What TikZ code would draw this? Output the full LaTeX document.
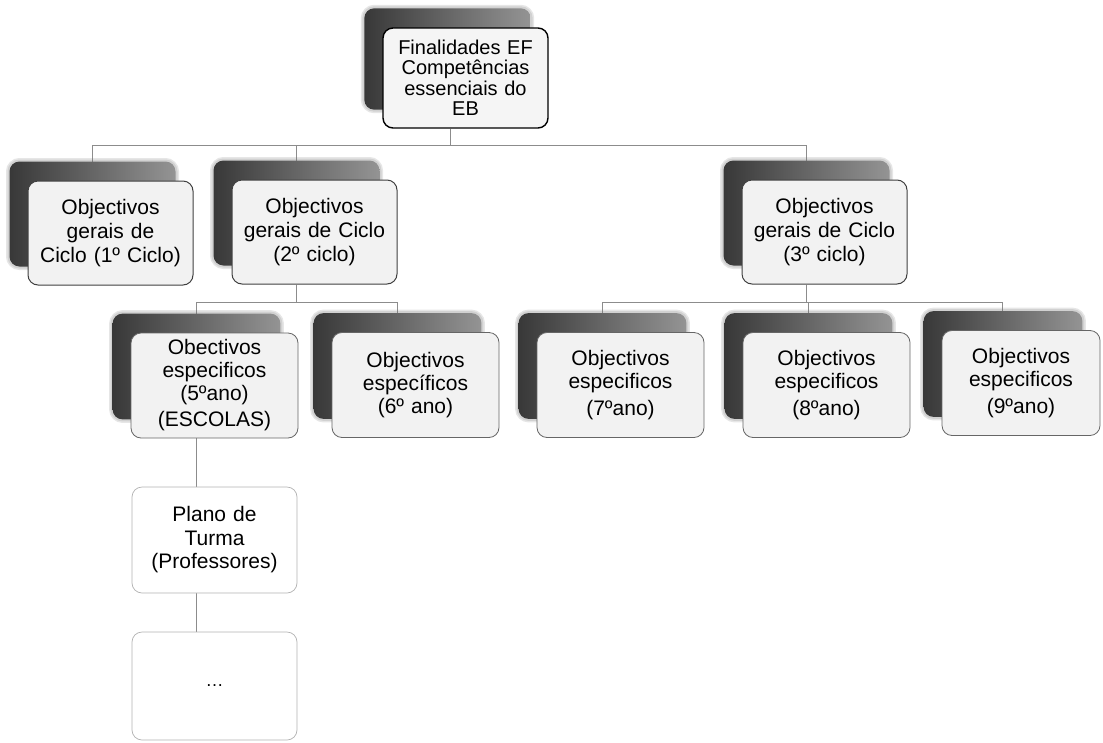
\documentclass[tikz,border=0pt]{standalone}
\usepackage{fontspec}
\setmainfont{Liberation Sans}
\usetikzlibrary{backgrounds}
\tikzset{
  basebox/.style={rounded corners=10pt, align=center, inner sep=0pt, text width=#1, minimum width=#1},
  topbox/.style={basebox=165pt, draw=black, line width=1.4pt, fill=black!4, minimum height=100pt, font=\fontsize{20}{20.5}\selectfont},
  rowone/.style={basebox=165pt, draw=black!75, line width=1pt, fill=black!5, minimum height=104pt, font=\fontsize{21}{24}\selectfont},
  rowtwo/.style={basebox=#1, draw=black!60, line width=0.8pt, fill=black!5, minimum height=105pt, font=\fontsize{21}{23}\selectfont},
  rowtwo/.default=167pt,
  lowbox/.style={basebox=165pt, draw=black!30, line width=0.7pt, fill=white, minimum height=106pt, font=\fontsize{21}{23.5}\selectfont},
  conn/.style={draw=black!45, line width=0.8pt},
  shadowfill/.style={left color=black!78, right color=black!42, rounded corners=10pt},
  shadowhalo/.style={draw=black!55, line width=#1, opacity=0.18, rounded corners=10pt},
}
\newcommand\boxshadow[1]{%
  \foreach \hw in {7pt,4pt}{\draw[shadowhalo=\hw] ([shift={(-18,-19)}]#1.south west) rectangle ([shift={(-18,-19)}]#1.north east);}
  \shade[shadowfill] ([shift={(-18,-19)}]#1.south west) rectangle ([shift={(-18,-19)}]#1.north east);}
\begin{document}
\begin{tikzpicture}[x=1pt,y=-1pt]
\useasboundingbox (0,0) rectangle (1103,742);
% nodes
\node[topbox] (top) at (465.5,78) {Finalidades EF\\Competências\\essenciais do\\EB};
\node[rowone] (b1) at (110.5,233) {Objectivos\\gerais de\\Ciclo (1º Ciclo)};
\node[rowone] (b2) at (314.5,232) {Objectivos\\gerais de Ciclo\\(2º ciclo)};
\node[rowone] (b3) at (824.5,232) {Objectivos\\gerais de Ciclo\\(3º ciclo)};
\node[rowtwo] (c5) at (214.5,385.5) {Obectivos\\especificos\\(5ºano)\\[3pt](ESCOLAS)};
\node[rowtwo] (c6) at (415.5,385) {Objectivos\\específicos\\(6º ano)};
\node[rowtwo] (c7) at (620.5,385) {Objectivos\\especificos\\[4pt](7ºano)};
\node[rowtwo] (c8) at (826.5,385) {Objectivos\\especificos\\[4pt](8ºano)};
\node[rowtwo=158pt] (c9) at (1021,383) {Objectivos\\especificos\\[4pt](9ºano)};
\node[lowbox] (plano) at (214.5,540) {Plano de\\Turma\\(Professores)};
\node[lowbox, minimum height=108pt, font=\fontsize{18}{20}\selectfont] (dots) at (214.5,686) {\ldots};
% junction coordinates
\coordinate (j0) at (450,145);
\coordinate (j1) at (92,145);
\coordinate (j2) at (296,145);
\coordinate (j3) at (806,145);
\coordinate (k2) at (296,302);
\coordinate (k5) at (196,302);
\coordinate (k6) at (397,302);
\coordinate (k3) at (806,302);
\coordinate (k7) at (602,302);
\coordinate (k8) at (808,302);
\coordinate (k9) at (1002,302);
\begin{scope}[on background layer]
  \draw[conn] (top.south -| j0) -- (j0);
  \draw[conn] (j1) -- (j3);
  \draw[conn] (j1) -- (b1.north -| j1);
  \draw[conn] (j2) -- (b2.north -| j2);
  \draw[conn] (j3) -- (b3.north -| j3);
  \draw[conn] (b2.south -| k2) -- (k2);
  \draw[conn] (k5) -- (k6);
  \draw[conn] (k5) -- (c5.north -| k5);
  \draw[conn] (k6) -- (c6.north -| k6);
  \draw[conn] (b3.south -| k3) -- (k3);
  \draw[conn] (k7) -- (k9);
  \draw[conn] (k7) -- (c7.north -| k7);
  \draw[conn] (k8) -- (c8.north -| k8);
  \draw[conn] (k9) -- (c9.north -| k9);
  \draw[conn] (c5.south -| k5) -- (plano.north -| k5);
  \draw[conn] (plano.south -| k5) -- (dots.north -| k5);
  \boxshadow{top}
  \boxshadow{b1}
  \boxshadow{b2}
  \boxshadow{b3}
  \boxshadow{c5}
  \boxshadow{c6}
  \boxshadow{c7}
  \boxshadow{c8}
  \boxshadow{c9}
\end{scope}
\end{tikzpicture}
\end{document}
